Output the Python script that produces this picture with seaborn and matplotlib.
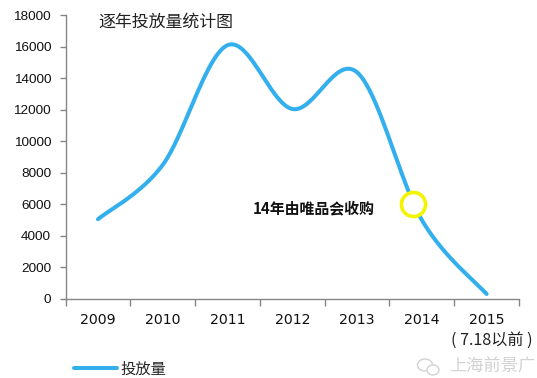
import numpy as np
import pandas as pd
import matplotlib
matplotlib.use("Agg")
import matplotlib.pyplot as plt
from matplotlib.patches import Ellipse
import seaborn as sns

years = ["2009", "2010", "2011", "2012", "2013", "2014", "2015"]
volume = [5050, 8500, 16100, 12050, 14380, 5000, 300]
y_ticks = [0, 2000, 4000, 6000, 8000, 10000, 12000, 14000, 16000, 18000]
title = "逐年投放量统计图"
note = "14年由唯品会收购"
series_name = "投放量"
last_note = "( 7.18以前 )"
watermark = "上海前景广"
BLUE = "#33AFEE"
GRAY = "#868686"
CJK = ["Noto Sans CJK SC", "DejaVu Sans"]

W, H = 537, 378
sns.set_theme(style="white")
plt.rcParams["font.family"] = CJK


def smooth(v, n=40):
    # Excel-style smoothed line: cubic Bezier segments through each value
    p = np.array(list(enumerate(v)), dtype=float)
    xs, ys = [], []
    for i in range(len(p) - 1):
        a = p[i]
        b = p[i + 1]
        c1 = a + (b - p[max(i - 1, 0)]) / 6
        c2 = b - (p[min(i + 2, len(p) - 1)] - a) / 6
        t = np.linspace(0, 1, n)[:, None]
        q = (1 - t) ** 3 * a + 3 * (1 - t) ** 2 * t * c1 + 3 * (1 - t) * t ** 2 * c2 + t ** 3 * b
        xs.extend(q[:, 0])
        ys.extend(q[:, 1])
    return pd.DataFrame({"x": xs, "y": ys, "s": series_name})


fig = plt.figure(figsize=(W / 100, H / 100), dpi=100)
ax = fig.add_axes([65.6 / W, 1 - 298.7 / H, (519 - 65.6) / W, (298.7 - 15.3) / H])
sns.lineplot(data=smooth(volume), x="x", y="y", hue="s", palette=[BLUE], linewidth=2.9,
             ax=ax, sort=False, estimator=None, solid_capstyle="round")
ax.set_xlim(-0.5, 6.5)
ax.set_ylim(0, 18000)
ax.set_xlabel("")
ax.set_ylabel("")
for s in ["top", "right"]:
    ax.spines[s].set_visible(False)
for s in ["left", "bottom"]:
    ax.spines[s].set_color(GRAY)
    ax.spines[s].set_linewidth(1)

ax.set_yticks(y_ticks)
ax.set_yticklabels([str(t) for t in y_ticks], family="Liberation Sans", fontsize=9.7, color="#111111")
ax.tick_params(axis="y", left=True, length=4, width=1, color=GRAY, pad=6.5)
ax.set_xticks(range(len(years)))
ax.set_xticklabels(years, family="DejaVu Sans", fontsize=10.2, color="#111111")
ax.tick_params(axis="x", which="major", length=0, pad=10.5)
ax.set_xticks(np.arange(-0.5, 7), minor=True)
ax.tick_params(axis="x", which="minor", bottom=True, length=5, width=1, color=GRAY)

ax.scatter([4.87], [6000], s=300, facecolor="white", edgecolor="#F4F400", linewidth=2.6, zorder=5)
ax.text(253 / W, 1 - 208 / H, note, transform=fig.transFigure, fontsize=10.75, fontweight="bold",
        va="center", ha="left", color="#111111")
fig.text(98 / W, 1 - 22 / H, title, fontsize=12.2, va="center", ha="left", color="#222222")
fig.text(492 / W, 1 - 340 / H, last_note, fontsize=11.6, va="center", ha="center", color="#222222")

h, l = ax.get_legend_handles_labels()
leg = ax.legend(h, l, loc="center left", bbox_to_anchor=(74 / W, 1 - 369 / H), bbox_transform=fig.transFigure,
                frameon=False, fontsize=11, handlelength=2.8, handletextpad=0.25, borderpad=0, borderaxespad=0)

fig.text(449 / W, 1 - 367 / H, watermark, fontsize=12.4, va="center", ha="left", color="#D2D2D2")
for (cx, cy, w, h_) in [(425, 365, 15, 12), (433, 370, 12, 10)]:
    fig.add_artist(Ellipse((cx / W, 1 - cy / H), w / W, h_ / H, transform=fig.transFigure,
                           facecolor="white", edgecolor="#D2D2D2", linewidth=1))

fig.savefig("out.png", dpi=100)
